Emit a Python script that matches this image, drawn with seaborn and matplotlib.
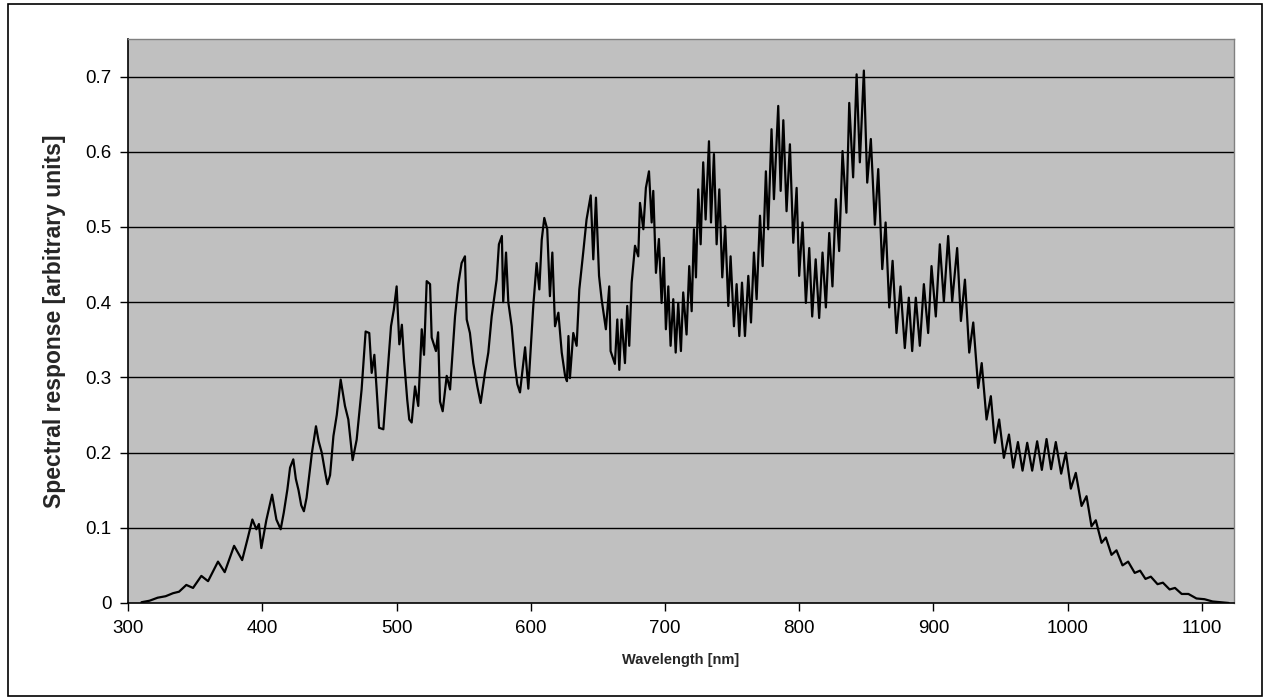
import numpy as np
import pandas as pd
import matplotlib
matplotlib.use("Agg")
import matplotlib.pyplot as plt
from matplotlib.patches import Rectangle
import seaborn as sns

# wavelength [nm] and response values (peaks / troughs of the fringes)
wl_blue = [310, 316, 322, 328, 333.5, 338, 343.4, 348.4, 354.6, 359.6, 367, 372, 379, 385, 389,
           392.6, 395.6, 397.5, 399.3, 403, 407.3, 410.5, 413.7, 416, 418.7, 420.7, 423.1, 425,
           427, 429, 431, 433, 435, 437, 440, 442, 444.3, 446.7, 448.5, 450.5, 453, 455.5, 458.4,
           461.6, 464.1, 467.3, 470.3, 474, 477, 479.7, 481.5, 483.5, 485.2, 487, 490.2, 492.2,
           493.9, 495.9, 498, 500.1, 502.1, 504, 505.6, 508, 509.5]
resp_blue = [0.001, 0.003, 0.007, 0.009, 0.013, 0.015, 0.024, 0.020, 0.036, 0.029, 0.055, 0.041,
             0.076, 0.057, 0.085, 0.111, 0.098, 0.105, 0.073, 0.110, 0.144, 0.111, 0.098, 0.120,
             0.151, 0.180, 0.191, 0.165, 0.150, 0.130, 0.122, 0.140, 0.170, 0.200, 0.235, 0.215,
             0.200, 0.175, 0.158, 0.170, 0.222, 0.250, 0.297, 0.262, 0.244, 0.190, 0.217, 0.284,
             0.361, 0.359, 0.306, 0.330, 0.284, 0.233, 0.231, 0.279, 0.319, 0.368, 0.390, 0.421,
             0.344, 0.370, 0.324, 0.270, 0.244]

wl_green = [511.3, 513.8, 516.2, 518.8, 520.5, 522.5, 525, 526.2, 529.4, 531, 532.4, 534.4, 537.4,
            539.9, 543.6, 546, 548.5, 551, 552.3, 554.7, 557.2, 560.2, 562.7, 565.9, 568.4, 570.9,
            574.6, 576.3, 578.5, 579.5, 581.6, 583.3, 585.8, 588.3, 590, 592, 595.8, 598.2, 601.9,
            604.4, 606.4, 608.2, 610.1, 612.3, 614.3, 616.1, 618.1, 620.6, 623.1, 625.6, 627,
            628.1, 629.2, 631.7, 634.2, 636.2, 639.1, 641.6, 644.7, 646.6, 648.6, 650.9, 652.8,
            656, 658.5, 659.5, 662.7, 664.5, 666, 667.7, 670.2, 671.9, 673.4, 675.2, 677.7,
            680.1, 681.4, 683.9, 685.8, 688.1, 690.1, 691.3, 693.3, 695.5, 697.5, 699.2]
resp_green = [0.240, 0.288, 0.262, 0.364, 0.330, 0.428, 0.424, 0.353, 0.335, 0.360, 0.268, 0.255,
              0.302, 0.284, 0.381, 0.424, 0.452, 0.461, 0.377, 0.359, 0.319, 0.288, 0.266, 0.306,
              0.333, 0.381, 0.430, 0.477, 0.488, 0.400, 0.466, 0.400, 0.368, 0.315, 0.291, 0.280,
              0.340, 0.285, 0.395, 0.452, 0.417, 0.483, 0.512, 0.497, 0.408, 0.466, 0.368, 0.386,
              0.333, 0.302, 0.295, 0.355, 0.299, 0.359, 0.342, 0.417, 0.466, 0.510, 0.542, 0.457,
              0.539, 0.435, 0.404, 0.364, 0.421, 0.335, 0.318, 0.377, 0.310, 0.377, 0.319, 0.395,
              0.342, 0.426, 0.475, 0.461, 0.532, 0.497, 0.552, 0.574, 0.506, 0.548, 0.439, 0.484,
              0.399, 0.459]

wl_red = [700.7, 702.5, 704.2, 706.2, 708, 709.9, 711.9, 713.6, 716.1, 718.1, 719.9, 721.6, 723.1,
          724.8, 726.6, 728.5, 730.3, 732.8, 734.3, 736.5, 738.5, 740.5, 742.7, 744.9, 747.2,
          748.9, 751.4, 753.4, 755.4, 757.4, 759.6, 762.1, 764.1, 766.3, 768.3, 770.8, 772.8,
          775.2, 776.9, 779.4, 781.2, 784.4, 786.2, 788.2, 790.6, 793.1, 795.6, 798.1, 800,
          802.5, 805, 807.5, 809.7, 812.3, 814.9, 817.4, 819.9, 822.4, 824.8, 827.3, 829.8,
          832.3, 835.2, 837.3, 840.2, 842.8, 845.2, 848.2, 850.7, 853.4, 856.4, 858.9]
resp_red = [0.364, 0.421, 0.342, 0.404, 0.333, 0.399, 0.335, 0.413, 0.357, 0.448, 0.388, 0.497,
            0.433, 0.550, 0.477, 0.586, 0.510, 0.614, 0.506, 0.597, 0.477, 0.550, 0.433, 0.501,
            0.395, 0.461, 0.368, 0.424, 0.355, 0.426, 0.355, 0.435, 0.373, 0.466, 0.404, 0.515,
            0.448, 0.574, 0.497, 0.630, 0.537, 0.661, 0.548, 0.642, 0.521, 0.610, 0.479, 0.552,
            0.435, 0.506, 0.399, 0.472, 0.381, 0.457, 0.379, 0.466, 0.393, 0.492, 0.421, 0.537,
            0.468, 0.601, 0.519, 0.665, 0.566, 0.703, 0.586, 0.708, 0.559, 0.617, 0.503, 0.577]

wl_nir = [861.9, 864.4, 867.1, 869.6, 872.5, 875.5, 878.7, 881.7, 884.2, 886.9, 889.9, 892.9,
          896.1, 898.6, 901.8, 904.8, 907.8, 911, 914, 917.7, 920.5, 923.5, 926.7, 929.7, 933.4,
          936, 939.6, 942.8, 945.8, 949, 952.5, 956.3, 959.5, 963, 966.4, 969.9, 973.6, 977.3,
          980.8, 984.3, 987.7, 991.2, 995.2, 998.7, 1002.4, 1006.1, 1010.4, 1014.1, 1017.8,
          1021, 1025.3, 1028.5, 1032.7, 1036.4, 1040.9, 1045.1, 1050, 1054, 1058, 1062, 1067,
          1071, 1076, 1080, 1085, 1090, 1096, 1102, 1108, 1114, 1120]
resp_nir = [0.444, 0.506, 0.393, 0.455, 0.359, 0.421, 0.339, 0.406, 0.335, 0.406, 0.342, 0.424,
            0.359, 0.448, 0.381, 0.477, 0.401, 0.488, 0.401, 0.472, 0.375, 0.430, 0.333, 0.373,
            0.286, 0.319, 0.244, 0.275, 0.213, 0.244, 0.193, 0.224, 0.180, 0.214, 0.176, 0.213,
            0.176, 0.215, 0.177, 0.218, 0.178, 0.214, 0.172, 0.200, 0.152, 0.173, 0.129, 0.142,
            0.102, 0.110, 0.080, 0.087, 0.064, 0.070, 0.050, 0.055, 0.040, 0.043, 0.032, 0.035,
            0.025, 0.027, 0.018, 0.020, 0.012, 0.012, 0.006, 0.005, 0.002, 0.001, 0.000]

x_ticks = [300, 400, 500, 600, 700, 800, 900, 1000, 1100]
y_ticks = [0, 0.1, 0.2, 0.3, 0.4, 0.5, 0.6, 0.7]
y_tick_labels = ["0", "0.1", "0.2", "0.3", "0.4", "0.5", "0.6", "0.7"]

df = pd.DataFrame({
    "wavelength": wl_blue + wl_green + wl_red + wl_nir,
    "response": resp_blue + resp_green + resp_red + resp_nir,
})

sns.set_style("white")
plt.rcParams["font.family"] = ["Liberation Sans", "DejaVu Sans"]

fig = plt.figure(figsize=(12.73, 7.0), dpi=100)
ax = fig.add_axes([0.1006, 0.1386, 0.8688, 0.8057])
ax.set_facecolor("#c0c0c0")

# horizontal grid lines, Excel style
for yv in y_ticks[1:]:
    ax.axhline(yv, color="black", lw=1.0, zorder=1)

sns.lineplot(data=df, x="wavelength", y="response", ax=ax, color="black",
             lw=1.6, estimator=None, sort=False, zorder=3)

ax.set_xlim(300, 1124)
ax.set_ylim(0, 0.75)
ax.set_xticks(x_ticks)
ax.set_yticks(y_ticks)
ax.set_yticklabels(y_tick_labels)
ax.tick_params(axis="both", direction="out", length=6, width=1, labelsize=13.5,
               colors="black", bottom=True, left=True, pad=6)

ax.set_xlabel("Wavelength [nm]", fontsize=10.5, fontweight="bold", labelpad=12)
ax.set_ylabel("Spectral response [arbitrary units]", fontsize=16.5, fontweight="bold",
              labelpad=14)

for side in ["left", "bottom"]:
    ax.spines[side].set_color("black")
    ax.spines[side].set_linewidth(1.2)
for side in ["top", "right"]:
    ax.spines[side].set_color("#808080")
    ax.spines[side].set_linewidth(1.0)

# chart area border
fig.patches.append(Rectangle((8 / 1273, 4 / 700), 1254 / 1273, 692 / 700,
                             transform=fig.transFigure, fill=False,
                             edgecolor="black", lw=1.2))

fig.savefig("out.png", dpi=100)
